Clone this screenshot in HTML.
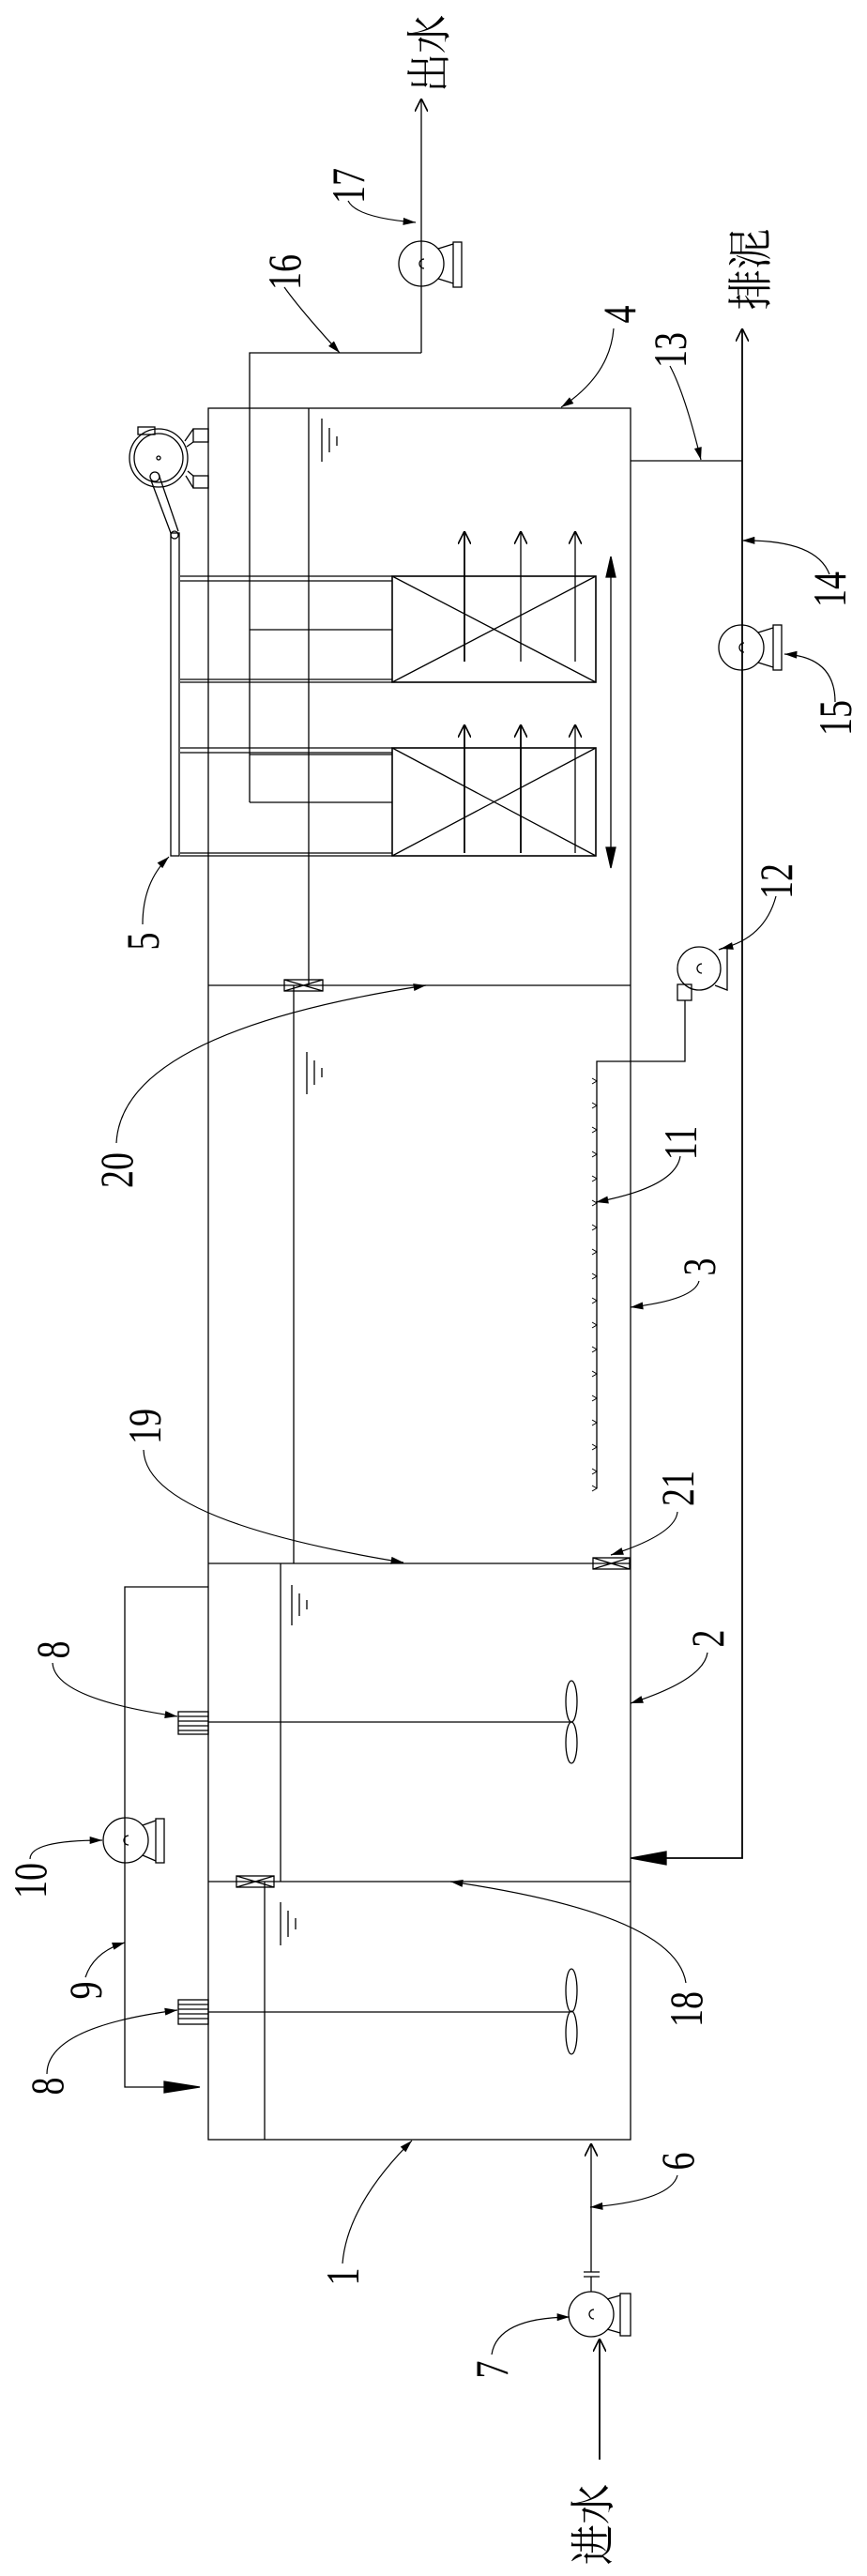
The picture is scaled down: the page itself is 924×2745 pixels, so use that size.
<!DOCTYPE html>
<html><head><meta charset="utf-8"><style>html,body{margin:0;padding:0;background:#fff}svg{display:block}</style></head>
<body>
<svg width="924" height="2745" viewBox="0 0 924 2745" xmlns="http://www.w3.org/2000/svg">
<defs>
<marker id="a" viewBox="0 0 10 6" refX="10" refY="3" markerWidth="16" markerHeight="8" markerUnits="userSpaceOnUse" orient="auto"><path d="M0,0 L10,3 L0,6 z" fill="#000"/></marker>
<marker id="o" viewBox="0 0 10 10" refX="10" refY="5" markerWidth="14" markerHeight="14" markerUnits="userSpaceOnUse" orient="auto"><path d="M0,0 L10,5 L0,10" fill="none" stroke="#000" stroke-width="1.2"/></marker>
</defs>
<g fill="none" stroke="#000" stroke-width="1.3">
<!-- tank outline -->
<rect x="222" y="435" width="450" height="1845"/>
<line x1="329" y1="435" x2="329" y2="1050"/>
<line x1="313" y1="1050" x2="313" y2="1666"/>
<line x1="299" y1="1666" x2="299" y2="2005"/>
<line x1="282" y1="2005" x2="282" y2="2280"/>
<line x1="222" y1="1050" x2="672" y2="1050"/>
<line x1="222" y1="1666" x2="672" y2="1666"/>
<line x1="222" y1="2005" x2="672" y2="2005"/>
<!-- water symbols -->
<path d="M343,446V492M351,456V482M359,465V475"/>
<path d="M327,1121V1166M335,1130V1156M343,1138V1148"/>
<path d="M311,1689V1732M319,1698V1722M327,1705V1715"/>
<path d="M299,2027V2073M307,2036V2064M315,2044V2056"/>
<!-- valves -->
<rect x="303" y="1044" width="41" height="12"/><path d="M303,1044L344,1056M303,1056L344,1044"/>
<rect x="632" y="1660" width="39" height="12"/><path d="M632,1660L671,1672M632,1672L671,1660"/>
<rect x="252" y="1999" width="40" height="12"/><path d="M252,1999L292,2011M252,2011L292,1999"/>
<!-- outlet pipe 16/17 -->
<line x1="449" y1="376" x2="449" y2="105" marker-end="url(#o)"/>
<path d="M266,855V376H449"/>
<line x1="266" y1="855" x2="418" y2="855"/>
<line x1="266" y1="671" x2="418" y2="671"/>
<line x1="266" y1="804" x2="418" y2="804"/>
<!-- motor 5 -->
<circle cx="169" cy="488" r="31"/><circle cx="169" cy="488" r="26"/><circle cx="169" cy="488" r="2"/>
<rect x="147" y="455" width="18" height="8"/>
<rect x="206" y="457" width="16" height="14"/><rect x="206" y="507" width="16" height="13"/>
<path d="M206,457L197,470M206,471L199,476M206,520L198,507M206,507L200,502"/>
<circle cx="165" cy="508" r="5"/>
<path d="M161,512L182,568M169,505L190,566"/>
<circle cx="186" cy="570" r="4"/>
<rect x="182" y="568" width="9" height="344"/>
<!-- modules -->
<path d="M192,614H418M192,619H418M192,724H418M192,727H418M192,797H418M192,802H418M192,909H418M192,912H418"/>
<rect x="418" y="614" width="217" height="113" stroke-width="1.6"/><path d="M418,614L635,727M418,727L635,614"/>
<rect x="418" y="797" width="217" height="115" stroke-width="1.6"/><path d="M418,797L635,912M418,912L635,797"/>
<line x1="495" y1="705" x2="495" y2="566" marker-end="url(#o)" stroke-width="1.8"/>
<line x1="555" y1="705" x2="555" y2="566" marker-end="url(#o)"/>
<line x1="613" y1="705" x2="613" y2="566" marker-end="url(#o)"/>
<line x1="495" y1="909" x2="495" y2="772" marker-end="url(#o)" stroke-width="1.8"/>
<line x1="555" y1="909" x2="555" y2="772" marker-end="url(#o)" stroke-width="1.8"/>
<line x1="613" y1="909" x2="613" y2="772" marker-end="url(#o)"/>
<line x1="651" y1="610" x2="651" y2="908"/>
<path d="M651,593L646,615H656z M651,925L646,903H656z" fill="#000"/>
<!-- sludge 13/14/15 -->
<path d="M672,491H791"/>
<line x1="791" y1="491" x2="791" y2="350" marker-end="url(#o)" stroke-width="1.8"/>
<path d="M791,491V1980H710" stroke-width="1.8"/>
<path d="M672,1980L710,1973V1987z" fill="#000"/>
<!-- pump 12 / aeration -->
<path d="M730,1066V1131H636V1586"/>
<g stroke-width="1">
<path d="M631,1149l5,3l-5,3M631,1175l5,3l-5,3M631,1201l5,3l-5,3M631,1227l5,3l-5,3M631,1253l5,3l-5,3M631,1279l5,3l-5,3M631,1305l5,3l-5,3M631,1331l5,3l-5,3M631,1357l5,3l-5,3M631,1383l5,3l-5,3M631,1409l5,3l-5,3M631,1435l5,3l-5,3M631,1461l5,3l-5,3M631,1487l5,3l-5,3M631,1513l5,3l-5,3M631,1539l5,3l-5,3M631,1565l5,3l-5,3M631,1583l5,3l-5,3"/>
</g>
<!-- pipe 9 -->
<path d="M222,1691H133V2224H175"/>
<path d="M213,2224L175,2218V2230z" fill="#000"/>
<!-- mixers -->
<rect x="190" y="1824" width="32" height="24"/><path d="M190,1829H222M190,1834H222M190,1839H222M190,1844H222"/>
<line x1="222" y1="1835" x2="607" y2="1835"/>
<ellipse cx="609" cy="1813" rx="6" ry="22"/><ellipse cx="609" cy="1857" rx="6" ry="22"/>
<rect x="190" y="2131" width="32" height="26"/><path d="M190,2136H222M190,2141H222M190,2146H222M190,2151H222"/>
<line x1="222" y1="2144" x2="607" y2="2144"/>
<ellipse cx="609" cy="2121" rx="6" ry="23"/><ellipse cx="609" cy="2166" rx="6" ry="23"/>
<!-- inlet -->
<line x1="630" y1="2421" x2="630" y2="2284" marker-end="url(#o)"/>
<path d="M622,2421H639M622,2426H639M630,2426V2442"/>
<line x1="639" y1="2621" x2="639" y2="2492" marker-end="url(#o)" stroke-width="1.8"/>
<!-- pumps -->
<g>
<circle cx="449" cy="281" r="24"/><path d="M452,276a5,5 0 1 0 0,10"/><rect x="483" y="258" width="9" height="48"/><path d="M467,265L483,260M467,297L483,302"/>
<circle cx="790" cy="690" r="24"/><path d="M793,685a5,5 0 1 0 0,10"/><rect x="824" y="666" width="9" height="48"/><path d="M808,674L824,669M808,706L824,711"/>
<circle cx="745" cy="1032" r="23"/><path d="M748,1027a5,5 0 1 0 0,10"/><rect x="722" y="1049" width="15" height="17"/><path d="M766,1012L775,1009V1055L762,1050"/>
<circle cx="134" cy="1961" r="24"/><path d="M137,1956a5,5 0 1 0 0,10"/><rect x="166" y="1938" width="9" height="47"/><path d="M152,1945L166,1940M152,1977L166,1983"/>
<circle cx="630" cy="2466" r="24"/><path d="M633,2461a5,5 0 1 0 0,10"/><rect x="661" y="2444" width="11" height="45"/><path d="M647,2450L661,2446M647,2482L661,2486"/>
</g>
<line x1="449" y1="0" x2="449" y2="0"/>
<!-- leaders -->
<g stroke-width="1.2" marker-end="url(#a)">
<path d="M371,214Q380,232 443,237"/>
<path d="M303,306Q320,330 362,376"/>
<path d="M654,350Q650,400 598,434"/>
<path d="M714,390Q730,420 747,490"/>
<path d="M884,612Q870,575 791,576"/>
<path d="M890,748Q890,700 836,697"/>
<path d="M827,955Q815,1000 768,1011"/>
<path d="M152,985Q152,940 180,913"/>
<path d="M124,1218Q130,1100 454,1050"/>
<path d="M725,1232Q720,1265 635,1281"/>
<path d="M745,1365Q740,1385 672,1393"/>
<path d="M153,1545Q155,1620 430,1665"/>
<path d="M722,1611Q720,1635 651,1657"/>
<path d="M56,1772Q58,1810 189,1829"/>
<path d="M754,1761Q750,1790 672,1815"/>
<path d="M32,1981Q32,1961 109,1961"/>
<path d="M91,2107Q100,2080 133,2070"/>
<path d="M50,2210Q50,2160 189,2142"/>
<path d="M731,2113Q720,2040 480,2005"/>
<path d="M365,2412Q370,2350 439,2281"/>
<path d="M722,2318Q715,2345 629,2352"/>
<path d="M524,2509Q530,2470 607,2469"/>
</g>
</g>
<!-- labels -->
<g font-family="'Liberation Serif', serif" font-size="50" fill="#000" text-anchor="middle" dominant-baseline="central">
<text transform="translate(371,198) rotate(-90) scale(0.76,1)">17</text>
<text transform="translate(303,290) rotate(-90) scale(0.76,1)">16</text>
<text transform="translate(660,335) rotate(-90) scale(0.76,1)">4</text>
<text transform="translate(714,373) rotate(-90) scale(0.76,1)">13</text>
<text transform="translate(884,628) rotate(-90) scale(0.76,1)">14</text>
<text transform="translate(890,765) rotate(-90) scale(0.76,1)">15</text>
<text transform="translate(827,939) rotate(-90) scale(0.76,1)">12</text>
<text transform="translate(152,1003) rotate(-90) scale(0.76,1)">5</text>
<text transform="translate(124,1247) rotate(-90) scale(0.76,1)">20</text>
<text transform="translate(725,1218) rotate(-90) scale(0.76,1)">11</text>
<text transform="translate(745,1350) rotate(-90) scale(0.76,1)">3</text>
<text transform="translate(154,1520) rotate(-90) scale(0.76,1)">19</text>
<text transform="translate(722,1586) rotate(-90) scale(0.76,1)">21</text>
<text transform="translate(56,1758) rotate(-90) scale(0.76,1)">8</text>
<text transform="translate(754,1746) rotate(-90) scale(0.76,1)">2</text>
<text transform="translate(32,2004) rotate(-90) scale(0.76,1)">10</text>
<text transform="translate(91,2121) rotate(-90) scale(0.76,1)">9</text>
<text transform="translate(50,2223) rotate(-90) scale(0.76,1)">8</text>
<text transform="translate(731,2141) rotate(-90) scale(0.76,1)">18</text>
<text transform="translate(365,2426) rotate(-90) scale(0.76,1)">1</text>
<text transform="translate(722,2303) rotate(-90) scale(0.76,1)">6</text>
<text transform="translate(524,2525) rotate(-90) scale(0.76,1)">7</text>
</g>
<g font-family="'Liberation Serif', 'Noto Serif CJK SC', 'Noto Sans CJK SC', serif" font-size="48" fill="#000" text-anchor="middle" dominant-baseline="central">
<text transform="translate(458,57) rotate(-90) scale(0.86,1)">出水</text>
<text transform="translate(800,287) rotate(-90) scale(0.9,1)">排泥</text>
<text transform="translate(632,2690) rotate(-90) scale(0.9,1)">进水</text>
</g>
</svg>
</body></html>
